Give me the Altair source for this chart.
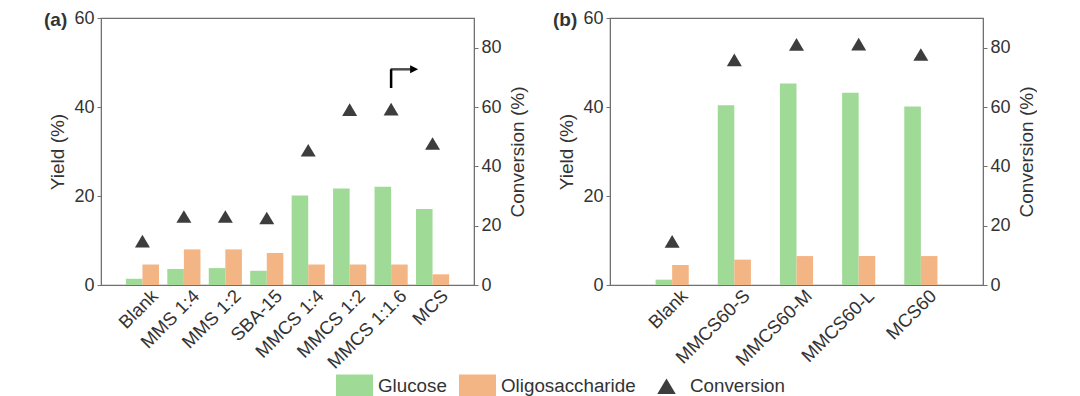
import altair as alt
import pandas as pd

# ---------------- data ----------------
cats_a = ["Blank", "MMS 1:4", "MMS 1:2", "SBA-15", "MMCS 1:4", "MMCS 1:2", "MMCS 1:1.6", "MCS"]
glucose_a = [1.4, 3.6, 3.8, 3.2, 20.1, 21.7, 22.1, 17.1]
oligo_a = [4.6, 8.0, 8.0, 7.2, 4.6, 4.6, 4.6, 2.4]
conv_a = [14.8, 23.1, 23.1, 22.6, 45.4, 59.1, 59.3, 47.7]

cats_b = ["Blank", "MMCS60-S", "MMCS60-M", "MMCS60-L", "MCS60"]
glucose_b = [1.2, 40.4, 45.3, 43.2, 40.1]
oligo_b = [4.5, 5.7, 6.5, 6.5, 6.5]
conv_b = [14.7, 75.9, 81.1, 81.2, 77.7]

series = ["Glucose", "Oligosaccharide", "Conversion"]
yield_ticks = [0, 20, 40, 60]
conv_ticks = [0, 20, 40, 60, 80]

# arrow annotation in panel (a): pointing to the right-hand (conversion) axis
arrow_cat = "MMCS 1:1.6"
arrow_conv = [66.4, 72.7]

GREEN = "#a0da97"
ORANGE = "#f3b584"
DARK = "#3d3d3d"
RECT = "M-1,-0.6H1V0.6H-1Z"
TRI = "M0,-0.42L0.5,0.42L-0.5,0.42Z"
FONT = "Liberation Sans"

color_scale = alt.Scale(domain=series, range=[GREEN, ORANGE, DARK])
shape_scale = alt.Scale(domain=series, range=[RECT, RECT, TRI])
legend = alt.Legend(title=None, orient="none", direction="horizontal",
                    legendX=235, legendY=349)


def panel(cats, glu, oli, conv, pad_in, pad_out, tag, arrow=False):
    bars_df = pd.DataFrame({
        "cat": cats * 2,
        "series": ["Glucose"] * len(cats) + ["Oligosaccharide"] * len(cats),
        "value": list(glu) + list(oli),
    })
    conv_df = pd.DataFrame({"cat": cats, "series": ["Conversion"] * len(cats), "conv": conv})
    xscale = alt.Scale(paddingInner=pad_in, paddingOuter=pad_out)
    xenc = alt.X("cat:N", sort=cats, scale=xscale,
                 axis=alt.Axis(title=None, labelAngle=-45, ticks=False, labelFontSize=18.5,
                               labelAlign="right", labelBaseline="top",
                               labelPadding=1, labelOffset=6, domain=False))

    bars = alt.Chart(bars_df).mark_bar().encode(
        x=xenc,
        xOffset=alt.XOffset("series:N", sort=["Glucose", "Oligosaccharide"]),
        y=alt.Y("value:Q", scale=alt.Scale(domain=[0, 60], nice=False),
                axis=alt.Axis(title="Yield (%)", values=yield_ticks, orient="left",
                              titlePadding=6)),
        color=alt.Color("series:N", scale=color_scale, legend=legend),
    )
    pts = alt.Chart(conv_df).mark_point(filled=True, size=900, opacity=1).encode(
        x=alt.X("cat:N", sort=cats, scale=xscale),
        y=alt.Y("conv:Q", scale=alt.Scale(domain=[0, 90], nice=False),
                axis=alt.Axis(title="Conversion (%)", values=conv_ticks, orient="right",
                              titlePadding=7, titleAngle=270, titleBaseline="top")),
        color=alt.Color("series:N", scale=color_scale, legend=legend),
        shape=alt.Shape("series:N", scale=shape_scale, legend=legend),
    )
    tag_df = pd.DataFrame({"label": [tag]})
    tag_txt = alt.Chart(tag_df).mark_text(align="left", baseline="middle", fontSize=19,
                                         fontWeight="bold", font=FONT, color="#333").encode(
        x=alt.value(-57), y=alt.value(2), text="label:N")
    layers = [bars, pts]
    if arrow:
        adf = pd.DataFrame({"cat": [arrow_cat], "y1": [arrow_conv[0]], "y2": [arrow_conv[1]]})
        ay = alt.Scale(domain=[0, 90], nice=False)
        vert = alt.Chart(adf).mark_rule(strokeWidth=2.5, color="black").encode(
            x=alt.X("cat:N", sort=cats, scale=xscale),
            y=alt.Y("y1:Q", scale=ay, axis=None), y2="y2:Q")
        horiz = alt.Chart(adf).mark_tick(orient="horizontal", size=23, thickness=2.5,
                                         xOffset=11, color="black").encode(
            x=alt.X("cat:N", sort=cats, scale=xscale),
            y=alt.Y("y2:Q", scale=ay, axis=None))
        head = alt.Chart(adf).mark_point(shape="M-1,-1L1,0L-1,1Z", size=64, filled=True,
                                         opacity=1, color="black", xOffset=23).encode(
            x=alt.X("cat:N", sort=cats, scale=xscale),
            y=alt.Y("y2:Q", scale=ay, axis=None))
        layers += [vert, horiz, head]
    layers.append(tag_txt)
    return alt.layer(*layers).resolve_scale(y="independent").properties(width=373, height=267)


pa = panel(cats_a, glucose_a, oligo_a, conv_a, 0.2, 0.6, "(a)", arrow=True)
pb = panel(cats_b, glucose_b, oligo_b, conv_b, 0.467, 0.733, "(b)")

chart = alt.hconcat(pa, pb, spacing=24).properties(
    padding={"left": 35, "top": 0, "right": 0, "bottom": 0}
).configure_view(
    stroke="#707070", strokeWidth=1.2
).configure_axis(
    grid=False, domainColor="#707070", tickColor="#707070", tickSize=4,
    labelColor="#333", titleColor="#333", labelFont=FONT, titleFont=FONT,
    labelFontSize=18, titleFontSize=19, titleFontWeight="normal", labelPadding=3,
).configure_legend(
    labelFont=FONT, labelFontSize=18.8, labelColor="#333", symbolSize=1369,
    symbolStrokeWidth=0, labelOffset=5, columnPadding=12,
)

chart.save("out.html", embed_options={"renderer": "svg", "actions": False})
